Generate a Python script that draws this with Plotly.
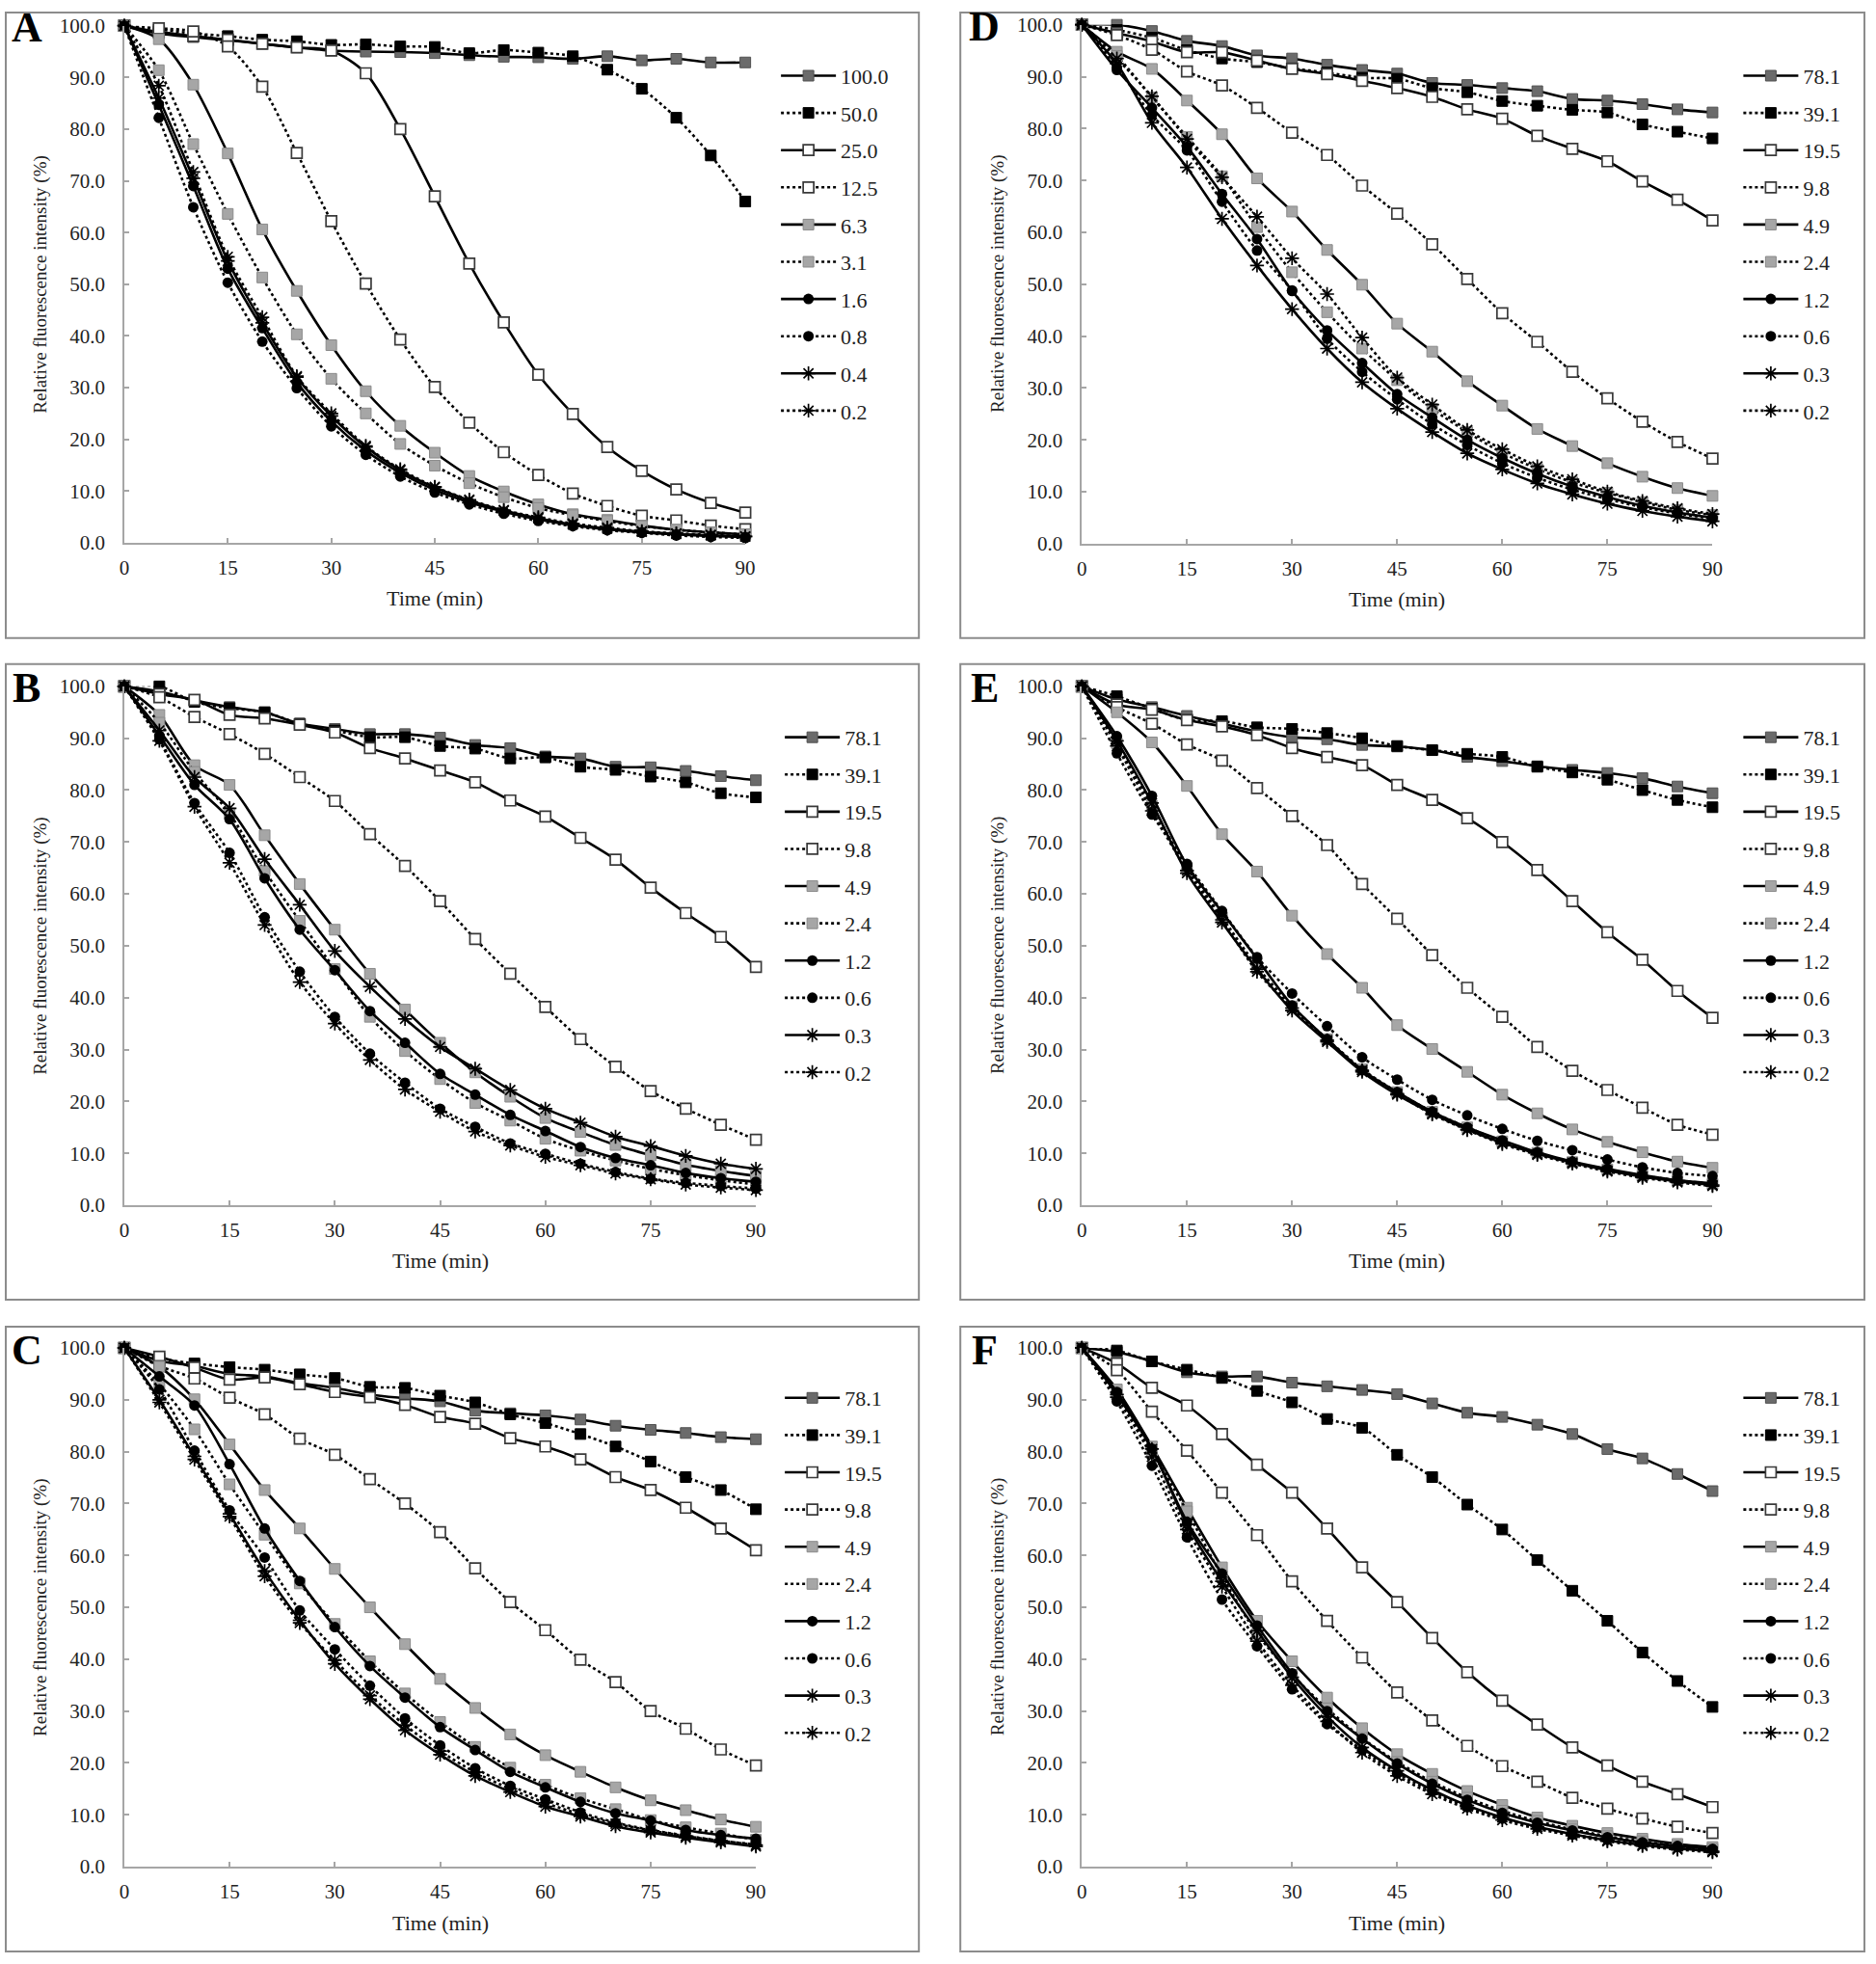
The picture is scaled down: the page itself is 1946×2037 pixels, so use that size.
import plotly.graph_objects as go

W, H = 1946, 2037
FONT = "Liberation Serif"

time_min = [0, 5, 10, 15, 20, 25, 30, 35, 40, 45, 50, 55, 60, 65, 70, 75, 80, 85, 90]
x_ticks = [0, 15, 30, 45, 60, 75, 90]
y_ticks = [0, 10, 20, 30, 40, 50, 60, 70, 80, 90, 100]

labels_a = ["100.0", "50.0", "25.0", "12.5", "6.3", "3.1", "1.6", "0.8", "0.4", "0.2"]
labels_bf = ["78.1", "39.1", "19.5", "9.8", "4.9", "2.4", "1.2", "0.6", "0.3", "0.2"]

# ---- Panel A ----
a_100 = [100, 98.5, 97.8, 97.2, 96.5, 95.8, 95.2, 95.0, 94.9, 94.7, 94.3, 94.0, 93.9, 93.6, 94.1, 93.3, 93.6, 92.9, 92.9]
a_50 = [100, 99.3, 98.5, 98.0, 97.3, 97.0, 96.3, 96.4, 96.0, 95.9, 94.7, 95.3, 94.8, 94.1, 91.5, 87.8, 82.2, 74.9, 66.0]
a_25 = [100, 98.8, 98.0, 97.3, 96.5, 95.8, 95.2, 90.8, 80.0, 67.0, 54.0, 42.6, 32.5, 24.9, 18.5, 13.9, 10.3, 7.7, 5.8]
a_12_5 = [100, 99.5, 98.9, 96.0, 88.2, 75.4, 62.2, 50.1, 39.3, 30.1, 23.2, 17.5, 13.1, 9.5, 7.1, 5.2, 4.3, 3.3, 2.6]
a_6_3 = [100, 97.4, 88.6, 75.3, 60.6, 48.7, 38.2, 29.3, 22.6, 17.4, 12.9, 9.9, 7.4, 5.5, 4.4, 3.3, 2.5, 2.0, 1.6]
a_3_1 = [100, 91.4, 77.1, 63.6, 51.3, 40.3, 31.7, 25.0, 19.1, 14.9, 11.5, 8.8, 6.7, 5.3, 4.2, 3.2, 2.5, 2.0, 1.6]
a_1_6 = [100, 84.7, 69.0, 53.0, 41.5, 31.0, 23.5, 17.8, 13.5, 10.2, 7.8, 6.0, 4.5, 3.4, 2.6, 2.0, 1.6, 1.3, 1.1]
a_0_8 = [100, 82.2, 64.9, 50.3, 38.9, 29.9, 22.5, 17.0, 12.8, 9.7, 7.4, 5.6, 4.2, 3.2, 2.4, 1.9, 1.4, 1.1, 0.9]
a_0_4 = [100, 86.0, 70.5, 54.5, 42.5, 32.0, 24.5, 18.5, 14.0, 10.7, 8.2, 6.2, 4.7, 3.5, 2.7, 2.1, 1.7, 1.4, 1.2]
a_0_2 = [100, 88.4, 71.7, 55.3, 43.6, 32.2, 25.0, 18.7, 14.2, 10.8, 8.3, 6.3, 4.9, 3.7, 2.9, 2.2, 1.8, 1.5, 1.2]

# ---- Panel B ----
b_78_1 = [100, 99.0, 97.3, 96.0, 95.0, 92.8, 91.8, 90.8, 90.8, 90.1, 88.7, 88.1, 86.5, 86.1, 84.5, 84.4, 83.7, 82.7, 81.9]
b_39_1 = [100, 100.0, 97.0, 95.8, 95.0, 92.8, 91.5, 90.2, 90.2, 88.5, 88.0, 86.1, 86.3, 84.5, 83.9, 82.6, 81.5, 79.4, 78.6]
b_19_5 = [100, 98.5, 97.4, 94.5, 93.8, 92.6, 91.1, 88.1, 86.1, 83.8, 81.5, 78.0, 74.9, 70.8, 66.6, 61.2, 56.3, 51.7, 45.9]
b_9_8 = [100, 97.9, 94.1, 90.8, 87.0, 82.5, 77.9, 71.5, 65.4, 58.6, 51.3, 44.6, 38.2, 32.0, 26.7, 22.0, 18.6, 15.5, 12.6]
b_4_9 = [100, 94.5, 84.8, 81.0, 71.3, 61.9, 53.1, 44.6, 37.7, 31.3, 25.6, 20.9, 16.8, 14.1, 11.6, 9.6, 7.8, 6.6, 5.6]
b_2_4 = [100, 93.0, 83.5, 75.5, 64.4, 54.8, 45.5, 36.3, 29.7, 24.3, 19.7, 16.3, 12.8, 10.5, 8.6, 7.0, 5.8, 4.8, 4.0]
b_1_2 = [100, 90.5, 81.0, 74.4, 63.0, 53.1, 45.3, 37.4, 31.3, 25.3, 21.3, 17.4, 14.3, 11.2, 9.1, 7.7, 6.2, 5.2, 4.5]
b_0_6 = [100, 89.8, 77.5, 67.9, 55.5, 45.0, 36.3, 29.2, 23.6, 18.6, 15.1, 11.9, 9.9, 8.0, 6.4, 5.1, 4.3, 3.7, 3.2]
b_0_3 = [100, 91.5, 82.5, 76.5, 66.7, 57.9, 49.0, 42.1, 35.9, 30.5, 26.3, 22.2, 18.6, 15.9, 13.2, 11.4, 9.5, 8.0, 7.0]
b_0_2 = [100, 89.5, 76.8, 66.0, 54.0, 43.0, 35.0, 28.0, 22.3, 18.0, 14.2, 11.5, 9.3, 7.7, 6.1, 5.0, 4.0, 3.4, 2.9]

# ---- Panel C ----
c_78_1 = [100, 97.5, 96.5, 95.0, 94.5, 93.2, 92.3, 91.0, 90.3, 89.7, 87.9, 87.4, 87.0, 86.2, 85.0, 84.2, 83.6, 82.8, 82.4]
c_39_1 = [100, 98.0, 97.0, 96.3, 95.8, 94.9, 94.2, 92.5, 92.3, 90.8, 89.5, 87.2, 85.5, 83.4, 81.0, 78.1, 75.1, 72.6, 68.9]
c_19_5 = [100, 98.3, 96.2, 93.9, 94.3, 93.0, 91.5, 90.5, 89.0, 86.7, 85.4, 82.6, 81.0, 78.5, 75.1, 72.6, 69.2, 65.2, 61.0]
c_9_8 = [100, 96.5, 94.1, 90.4, 87.2, 82.5, 79.4, 74.7, 70.0, 64.5, 57.5, 51.0, 45.6, 39.9, 35.6, 30.0, 26.6, 22.6, 19.5]
c_4_9 = [100, 96.4, 90.1, 81.4, 72.6, 65.2, 57.4, 50.0, 42.9, 36.2, 30.6, 25.5, 21.5, 18.3, 15.3, 12.8, 10.9, 9.1, 7.7]
c_2_4 = [100, 93.0, 84.3, 73.7, 64.0, 54.6, 46.8, 39.6, 33.4, 27.9, 23.1, 19.1, 15.8, 13.2, 11.1, 9.0, 7.6, 6.4, 5.2]
c_1_2 = [100, 94.5, 88.9, 77.6, 65.2, 55.1, 46.2, 38.7, 32.6, 26.9, 22.5, 18.3, 15.3, 12.5, 10.3, 8.9, 7.1, 6.1, 5.4]
c_0_6 = [100, 92.0, 80.2, 68.7, 59.6, 49.4, 41.9, 34.9, 28.6, 23.4, 19.0, 15.6, 13.0, 10.5, 8.5, 7.1, 6.0, 5.0, 4.3]
c_0_3 = [100, 90.0, 79.1, 68.0, 57.0, 47.5, 39.1, 32.3, 26.3, 21.6, 17.5, 14.4, 11.6, 9.7, 7.8, 6.6, 5.6, 4.7, 3.9]
c_0_2 = [100, 89.5, 78.5, 67.5, 56.0, 47.0, 39.8, 33.0, 27.3, 22.3, 18.2, 15.0, 12.3, 10.1, 8.3, 7.0, 5.9, 5.0, 4.2]

# ---- Panel D ----
d_78_1 = [100, 100.0, 98.8, 96.9, 95.9, 94.1, 93.5, 92.3, 91.3, 90.6, 88.8, 88.4, 87.8, 87.2, 85.7, 85.4, 84.7, 83.7, 83.1]
d_39_1 = [100, 99.0, 97.5, 95.1, 93.5, 92.8, 91.6, 90.8, 89.8, 89.6, 87.8, 87.0, 85.3, 84.4, 83.6, 83.1, 80.8, 79.4, 78.1]
d_19_5 = [100, 98.4, 96.8, 94.7, 94.7, 93.1, 91.5, 90.5, 89.2, 87.8, 86.1, 83.7, 81.9, 78.6, 76.1, 73.7, 69.8, 66.3, 62.3]
d_9_8 = [100, 98.0, 95.2, 91.0, 88.3, 84.0, 79.2, 74.9, 69.0, 63.6, 57.7, 51.0, 44.4, 38.9, 33.1, 28.0, 23.5, 19.6, 16.4]
d_4_9 = [100, 94.8, 91.5, 85.4, 78.9, 70.4, 64.0, 56.6, 49.9, 42.4, 37.0, 31.3, 26.6, 22.1, 18.8, 15.5, 12.9, 10.7, 9.2]
d_2_4 = [100, 94.0, 86.0, 78.4, 70.8, 61.0, 52.3, 44.6, 37.6, 31.5, 26.0, 21.5, 17.5, 14.4, 11.8, 9.8, 8.0, 6.5, 5.5]
d_1_2 = [100, 91.3, 84.0, 76.5, 67.4, 58.7, 48.7, 41.1, 34.8, 28.8, 24.3, 20.0, 16.5, 13.5, 11.0, 9.0, 7.3, 6.0, 5.0]
d_0_6 = [100, 91.8, 82.6, 75.8, 65.9, 56.5, 48.8, 39.5, 33.1, 27.8, 23.0, 19.0, 15.5, 12.7, 10.4, 8.6, 7.0, 5.8, 4.8]
d_0_3 = [100, 92.5, 81.1, 72.5, 62.6, 53.6, 45.2, 37.6, 31.1, 26.0, 21.5, 17.4, 14.3, 11.6, 9.5, 7.7, 6.3, 5.2, 4.3]
d_0_2 = [100, 93.5, 86.2, 78.0, 70.6, 63.0, 55.0, 48.1, 39.7, 32.0, 26.8, 21.9, 18.2, 14.9, 12.4, 10.0, 8.2, 6.8, 5.7]

# ---- Panel E ----
e_78_1 = [100, 97.5, 96.0, 94.3, 92.8, 91.3, 90.2, 89.8, 88.7, 88.4, 87.7, 86.4, 85.6, 84.6, 83.9, 83.3, 82.3, 80.7, 79.4]
e_39_1 = [100, 98.1, 95.7, 93.5, 93.3, 92.1, 91.8, 91.0, 90.0, 88.5, 87.7, 87.0, 86.4, 84.5, 83.4, 82.0, 80.0, 78.1, 76.7]
e_19_5 = [100, 96.5, 95.5, 93.5, 92.3, 90.6, 88.1, 86.4, 84.8, 81.0, 78.1, 74.6, 70.0, 64.6, 58.6, 52.6, 47.3, 41.3, 36.1]
e_9_8 = [100, 96.0, 92.8, 88.8, 85.7, 80.4, 75.0, 69.4, 61.9, 55.2, 48.2, 41.9, 36.3, 30.5, 25.9, 22.2, 18.8, 15.5, 13.6]
e_4_9 = [100, 95.0, 89.2, 80.8, 71.5, 64.3, 55.8, 48.4, 41.9, 34.7, 30.1, 25.7, 21.3, 17.7, 14.6, 12.2, 10.2, 8.4, 7.2]
e_2_4 = [100, 89.0, 77.0, 65.0, 55.5, 46.0, 38.3, 32.0, 26.2, 21.8, 18.0, 15.0, 12.3, 10.1, 8.3, 6.9, 5.7, 4.8, 4.1]
e_1_2 = [100, 90.4, 78.9, 65.5, 56.5, 47.5, 38.5, 32.0, 26.0, 21.8, 18.0, 15.0, 12.5, 10.2, 8.4, 7.0, 5.8, 4.8, 4.2]
e_0_6 = [100, 87.1, 75.3, 65.8, 56.7, 47.8, 40.8, 34.5, 28.5, 24.2, 20.3, 17.3, 14.7, 12.4, 10.6, 8.8, 7.3, 6.2, 5.6]
e_0_3 = [100, 89.5, 77.5, 64.0, 54.5, 45.5, 37.5, 31.5, 25.7, 21.3, 17.7, 14.6, 12.0, 9.9, 8.2, 6.7, 5.5, 4.6, 3.9]
e_0_2 = [100, 88.5, 76.0, 64.5, 55.0, 45.0, 38.0, 31.8, 26.0, 21.5, 17.5, 14.5, 11.8, 9.7, 8.0, 6.5, 5.3, 4.4, 3.7]

# ---- Panel F ----
f_78_1 = [100, 99.2, 97.4, 95.3, 94.5, 94.5, 93.3, 92.6, 91.9, 91.1, 89.3, 87.5, 86.7, 85.2, 83.4, 80.5, 78.7, 75.7, 72.4]
f_39_1 = [100, 99.5, 97.4, 95.8, 94.2, 91.7, 89.5, 86.3, 84.6, 79.4, 75.1, 69.8, 65.0, 59.1, 53.2, 47.4, 41.3, 35.8, 30.8]
f_19_5 = [100, 97.0, 92.3, 88.9, 83.4, 77.5, 72.1, 65.2, 57.7, 51.0, 44.1, 37.5, 32.0, 27.4, 23.0, 19.5, 16.4, 14.0, 11.5]
f_9_8 = [100, 95.7, 87.7, 80.2, 72.1, 63.9, 55.0, 47.4, 40.3, 33.6, 28.2, 23.3, 19.4, 16.4, 13.3, 11.2, 9.3, 7.7, 6.5]
f_4_9 = [100, 92.0, 81.0, 69.2, 57.7, 47.4, 39.6, 32.6, 26.7, 21.7, 17.9, 14.6, 11.9, 9.5, 7.9, 6.5, 5.4, 4.4, 3.8]
f_2_4 = [100, 91.0, 80.0, 68.5, 56.0, 44.9, 37.0, 30.5, 24.8, 20.2, 16.4, 13.3, 10.8, 8.8, 7.2, 5.9, 4.9, 4.0, 3.4]
f_1_2 = [100, 91.5, 80.6, 66.5, 56.5, 46.5, 37.3, 30.0, 24.7, 19.9, 16.0, 12.9, 10.4, 8.5, 7.0, 5.7, 4.7, 4.0, 3.4]
f_0_6 = [100, 89.7, 77.3, 63.5, 51.5, 42.5, 34.2, 27.5, 22.5, 18.0, 14.5, 11.5, 9.3, 7.6, 6.2, 5.2, 4.4, 3.8, 3.3]
f_0_3 = [100, 91.0, 80.5, 66.0, 55.0, 45.5, 36.5, 29.0, 23.0, 18.5, 14.8, 11.8, 9.5, 7.7, 6.3, 5.1, 4.2, 3.5, 3.0]
f_0_2 = [100, 90.5, 79.0, 65.0, 54.0, 43.5, 35.0, 28.0, 22.0, 17.5, 14.0, 11.2, 9.0, 7.3, 6.0, 4.9, 4.0, 3.3, 2.8]

panel_series = {
    "A": (labels_a, [a_100, a_50, a_25, a_12_5, a_6_3, a_3_1, a_1_6, a_0_8, a_0_4, a_0_2]),
    "B": (labels_bf, [b_78_1, b_39_1, b_19_5, b_9_8, b_4_9, b_2_4, b_1_2, b_0_6, b_0_3, b_0_2]),
    "C": (labels_bf, [c_78_1, c_39_1, c_19_5, c_9_8, c_4_9, c_2_4, c_1_2, c_0_6, c_0_3, c_0_2]),
    "D": (labels_bf, [d_78_1, d_39_1, d_19_5, d_9_8, d_4_9, d_2_4, d_1_2, d_0_6, d_0_3, d_0_2]),
    "E": (labels_bf, [e_78_1, e_39_1, e_19_5, e_9_8, e_4_9, e_2_4, e_1_2, e_0_6, e_0_3, e_0_2]),
    "F": (labels_bf, [f_78_1, f_39_1, f_19_5, f_9_8, f_4_9, f_2_4, f_1_2, f_0_6, f_0_3, f_0_2]),
}

# ---- styles (one per series position) ----
styles = [
    dict(dash="solid", symbol="square", fill="#6b6b6b", edge="#505050", ew=1),
    dict(dash="dot", symbol="square", fill="#000000", edge="#000000", ew=1),
    dict(dash="solid", symbol="square", fill="#ffffff", edge="#3a3a3a", ew=1.7),
    dict(dash="dot", symbol="square", fill="#ffffff", edge="#3a3a3a", ew=1.7),
    dict(dash="solid", symbol="square", fill="#a6a6a6", edge="#8a8a8a", ew=1),
    dict(dash="dot", symbol="square", fill="#a6a6a6", edge="#8a8a8a", ew=1),
    dict(dash="solid", symbol="circle", fill="#000000", edge="#000000", ew=0),
    dict(dash="dot", symbol="circle", fill="#000000", edge="#000000", ew=0),
    dict(dash="solid", symbol="asterisk-open", fill="#000000", edge="#000000", ew=1.7),
    dict(dash="dot", symbol="asterisk-open", fill="#000000", edge="#000000", ew=1.7),
]

# ---- layout geometry, in target picture pixels ----
geom = {
    #      x0    x90   y100  y0    box l, t, r, b          legend line x, first row y
    "A": (128, 772, 27, 563, (2, 2, 952, 662), 813, 79),
    "B": (128, 783, 712, 1250, (2, 689, 952, 1348), 817, 765),
    "C": (128, 783, 1398, 1936, (2, 1376, 952, 2034), 817, 1450),
    "D": (1121, 1775, 26, 564, (995, 2, 1943, 662), 1811, 79),
    "E": (1121, 1775, 712, 1250, (995, 689, 1943, 1348), 1811, 765),
    "F": (1121, 1775, 1398, 1936, (995, 1376, 1943, 2034), 1811, 1450),
}

# the captured page shows a small uniform offset/scale; compensate for it
SX, OX = 0.9915, 4.1
SY, OY = 0.988, 12.3

def px(x):
    v = (x - OX) / SX
    return min(max(v, 1.0), W - 1.0) / W

def py(y):
    v = (y - OY) / SY
    return 1 - min(max(v, 1.0), H - 1.0) / H

fig = go.Figure()
layout = dict(
    width=W, height=H, margin=dict(l=0, r=0, t=0, b=0),
    paper_bgcolor="white", plot_bgcolor="white",
    font=dict(family=FONT, color="#000000", size=20),
    showlegend=True,
)
shapes = []
annotations = []
AXC = "#a6a6a6"

for k, letter in enumerate(["A", "B", "C", "D", "E", "F"]):
    x0, x90, y100, y0, box, lx, ly = geom[letter]
    suffix = "" if k == 0 else str(k + 1)
    xa, ya = "xaxis" + suffix, "yaxis" + suffix
    leg = "legend" + suffix
    layout[xa] = dict(
        domain=[px(x0), px(x90)], range=[0, 90], anchor="y" + suffix,
        tickvals=x_ticks, ticks="inside", ticklen=5, tickcolor=AXC, tickwidth=1.5,
        showline=True, linecolor=AXC, linewidth=1.5, showgrid=False, zeroline=False,
        tickfont=dict(family=FONT, size=21, color="#222"), ticklabelstandoff=6,
    )
    layout[ya] = dict(
        domain=[py(y0), py(y100)], range=[0, 100], anchor="x" + suffix,
        tickvals=y_ticks, tickformat=".1f", ticks="inside", ticklen=5, tickcolor=AXC,
        tickwidth=1.5, showline=True, linecolor=AXC, linewidth=1.5, showgrid=False,
        zeroline=False, tickfont=dict(family=FONT, size=21, color="#222"),
        ticklabelstandoff=14,
    )
    layout[leg] = dict(
        x=px(lx - 9), y=py(ly - 21), xanchor="left", yanchor="top",
        font=dict(family=FONT, size=22, color="#222"),
        bgcolor="rgba(0,0,0,0)", borderwidth=0, tracegroupgap=7,
        itemwidth=57, traceorder="grouped",
    )
    names, series = panel_series[letter]
    for i, (name, vals) in enumerate(zip(names, series)):
        st = styles[i]
        fig.add_trace(go.Scatter(
            x=time_min, y=vals, name=name, mode="lines+markers",
            xaxis="x" + suffix, yaxis="y" + suffix, legend=leg,
            legendgroup=f"{letter}{i}", cliponaxis=False,
            line=dict(color="#000000", width=2.6, dash=st["dash"], shape="spline", smoothing=0.8),
            marker=dict(symbol=st["symbol"], size=11 if st["symbol"] != "asterisk-open" else 12,
                        color=st["fill"], line=dict(color=st["edge"], width=st["ew"])),
        ))
    l, t, r, b = box
    shapes.append(dict(type="rect", xref="paper", yref="paper",
                       x0=px(l), x1=px(r), y0=py(b), y1=py(t),
                       line=dict(color="#8c8c8c", width=2), fillcolor="rgba(0,0,0,0)", layer="below"))
    annotations.append(dict(text="<b>" + letter + "</b>", xref="paper", yref="paper",
                            x=px(l + 25), y=py(y100 + 2), showarrow=False,
                            xanchor="center", yanchor="middle",
                            font=dict(family=FONT, size=44, color="#000")))
    annotations.append(dict(text="Relative fluorescence intensity (%)", xref="paper", yref="paper",
                            x=px(l + 39), y=py((y100 + y0) / 2), showarrow=False, textangle=-90,
                            xanchor="center", yanchor="middle",
                            font=dict(family=FONT, size=19, color="#222")))
    annotations.append(dict(text="Time (min)", xref="paper", yref="paper",
                            x=px((x0 + x90) / 2), y=py(y0 + 58), showarrow=False,
                            xanchor="center", yanchor="middle",
                            font=dict(family=FONT, size=22, color="#222")))

layout["shapes"] = shapes
layout["annotations"] = annotations
fig.update_layout(**layout)
fig.write_html(
    "out.html",
    config={"displayModeBar": False},
    post_script="document.body.style.margin='0';document.body.style.overflow='hidden';",
)
